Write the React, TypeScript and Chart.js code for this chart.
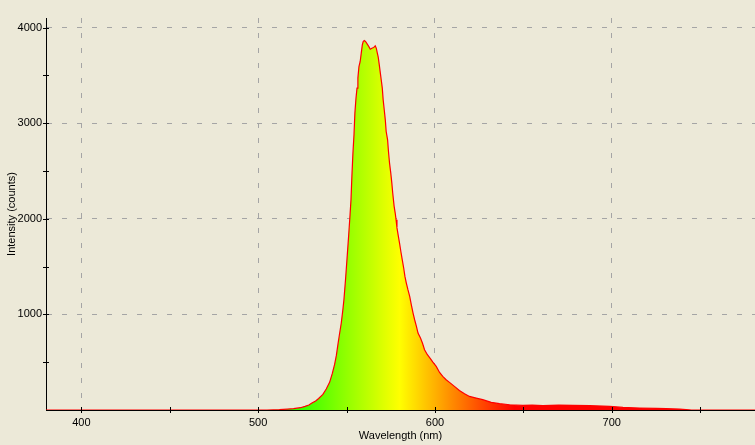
import React, { useEffect, useRef } from 'react';
import { Chart, registerables } from 'chart.js';

Chart.register(...registerables);

// Wavelength (nm)
const wavelengths: number[] = [
  380, 450, 505, 512, 516.6, 520, 523.9, 526.5, 528.7, 530.4, 532.5, 534.2, 536.6, 538.5,
  540.4, 541.9, 543.2, 544.2, 545.1, 546.1, 547, 547.9, 548.5, 549.4, 550.4, 551.2, 551.9,
  552.5, 553, 553.6, 554.2, 554.7, 555.3, 555.9, 556.4, 557, 557.7, 558.3, 558.9, 559.4,
  560, 560.7, 561.7, 562.6, 563.4, 564.3, 565.3, 566.2, 566.8, 567.4, 567.9, 568.5, 569.1,
  569.6, 570.2, 570.7, 571.3, 571.9, 572.4, 573.2, 573.7, 574.3, 575, 575.6, 576.1, 576.9,
  577.5, 578, 578.5, 579.3, 580, 580.7, 581.5, 582.3, 583, 583.8, 584.7, 585.7, 586.6,
  587.6, 588.5, 589.5, 590.4, 591.8, 592.9, 594.1, 595.7, 597.3, 598.8, 600.7, 602.6,
  604.4, 606.3, 608.2, 611, 613.8, 616.7, 619.5, 623.3, 627, 631.8, 636.5, 642.2, 649.7,
  655, 661, 670, 678, 687.5, 698.8, 706.3, 715.7, 725.2, 730.8, 738.4, 742, 745, 781,
];

// Intensity (counts)
const intensities: number[] = [
  0, 0, 0, 3, 10, 14, 24, 38, 52, 73, 95, 121, 163, 219,
  289, 380, 474, 568, 683, 805, 910, 1049, 1153, 1362, 1620, 1830, 2024,
  2199, 2442, 2687, 2878, 3105, 3255, 3367, 3471, 3592, 3645, 3732, 3819, 3854,
  3864, 3854, 3826, 3801, 3774, 3784, 3791, 3809, 3784, 3732, 3690, 3610, 3523,
  3453, 3367, 3244, 3140, 3035, 2913, 2826, 2704, 2582, 2478, 2373, 2269, 2130,
  2060, 1990, 1905, 1815, 1740, 1658, 1571, 1485, 1397, 1328, 1258, 1188, 1101,
  1014, 944, 874, 805, 753, 700, 630, 578, 540, 500, 456, 393,
  351, 317, 289, 247, 205, 170, 142, 125, 108, 80, 66, 55, 48,
  50, 45, 50, 48, 45, 38, 27, 21, 17, 14, 10, 4, 0, 0,
];

const xTickValues: number[] = [400, 450, 500, 550, 600, 650, 700, 750];
const xMajorTicks: number[] = [400, 500, 600, 700];
const yTickValues: number[] = [0, 500, 1000, 1500, 2000, 2500, 3000, 3500, 4000];
const yMajorTicks: number[] = [1000, 2000, 3000, 4000];

const X_MIN = 380;
const X_MAX = 781;
const Y_MIN = 0;
const Y_MAX = 4100;

const FONT = '"Liberation Sans", Arial, sans-serif';
const BG = '#ECE9D8';
const GRID = '#a5a5a5';

// Spectral colour for a wavelength (nm)
function waveColor(l: number): string {
  let r = 0, g = 0, b = 0;
  if (l < 440) { r = (440 - l) / 60; b = 1; }
  else if (l < 490) { g = (l - 440) / 50; b = 1; }
  else if (l < 510) { g = 1; b = (510 - l) / 20; }
  else if (l < 580) { r = (l - 510) / 70; g = 1; }
  else if (l < 645) { r = 1; g = (645 - l) / 65; }
  else { r = 1; }
  const c = (v: number) => Math.round(Math.max(0, Math.min(1, v)) * 255);
  return `rgb(${c(r)},${c(g)},${c(b)})`;
}

const axisDecor = {
  id: 'axisDecor',
  afterDraw(chart: any) {
    const { ctx, chartArea, scales } = chart;
    const xs = scales.x;
    const ys = scales.y;
    ctx.save();
    ctx.strokeStyle = '#000';
    ctx.lineWidth = 1;
    ctx.beginPath();
    xs.ticks.forEach((t: any) => {
      const px = Math.round(xs.getPixelForValue(t.value)) + 0.5;
      ctx.moveTo(px, chartArea.bottom - 3);
      ctx.lineTo(px, chartArea.bottom + 3);
    });
    ys.ticks.forEach((t: any) => {
      if (t.value === 0) return;
      const py = Math.round(ys.getPixelForValue(t.value)) + 0.5;
      ctx.moveTo(chartArea.left - 3, py);
      ctx.lineTo(chartArea.left + 3, py);
    });
    ctx.stroke();

    ctx.fillStyle = '#000';
    ctx.font = `11px ${FONT}`;
    ctx.textAlign = 'center';
    ctx.textBaseline = 'middle';
    ctx.fillText('Wavelength (nm)', (chartArea.left + chartArea.right) / 2, 436);
    ctx.translate(12, (chartArea.top + chartArea.bottom) / 2);
    ctx.rotate(-Math.PI / 2);
    ctx.fillText('Intensity (counts)', 0, 0);
    ctx.restore();
  },
};

export default function App() {
  const canvasRef = useRef<HTMLCanvasElement | null>(null);

  useEffect(() => {
    if (!canvasRef.current) return;
    const points = wavelengths.map((w, i) => ({ x: w, y: intensities[i] }));

    const chart = new Chart(canvasRef.current, {
      type: 'line',
      data: {
        datasets: [
          {
            data: points,
            borderColor: '#ff0000',
            borderWidth: 1.2,
            pointRadius: 0,
            tension: 0,
            fill: 'origin',
            backgroundColor: (c: any) => {
              const ch = c.chart;
              const area = ch.chartArea;
              if (!area) return 'rgba(0,0,0,0)';
              const xs = ch.scales.x;
              const x0 = xs.getPixelForValue(X_MIN);
              const x1 = xs.getPixelForValue(X_MAX);
              const grad = ch.ctx.createLinearGradient(x0, 0, x1, 0);
              for (let l = X_MIN; l <= X_MAX; l += 5) {
                grad.addColorStop((l - X_MIN) / (X_MAX - X_MIN), waveColor(l));
              }
              return grad;
            },
          },
        ],
      },
      options: {
        responsive: false,
        animation: false,
        events: [],
        layout: { padding: { top: 18, right: 0, left: 0, bottom: 0 } },
        plugins: {
          legend: { display: false },
          tooltip: { enabled: false },
        },
        scales: {
          x: {
            type: 'linear',
            min: X_MIN,
            max: X_MAX,
            afterBuildTicks: (s: any) => {
              s.ticks = xTickValues.map((v) => ({ value: v }));
            },
            afterFit: (s: any) => {
              s.height = 35;
            },
            ticks: {
              autoSkip: false,
              maxRotation: 0,
              padding: 6,
              color: '#000',
              font: { family: FONT, size: 11 },
              callback: (v: any) => (xMajorTicks.includes(Number(v)) ? String(v) : ''),
            },
            grid: {
              drawTicks: false,
              lineWidth: 1,
              color: (c: any) =>
                c.tick && xMajorTicks.includes(c.tick.value) ? GRID : 'rgba(0,0,0,0)',
            },
            border: { display: true, color: '#000', width: 1, dash: [5, 10] },
          },
          y: {
            type: 'linear',
            min: Y_MIN,
            max: Y_MAX,
            afterBuildTicks: (s: any) => {
              s.ticks = yTickValues.map((v) => ({ value: v }));
            },
            afterFit: (s: any) => {
              s.width = 46;
            },
            ticks: {
              autoSkip: false,
              padding: 4,
              color: '#000',
              font: { family: FONT, size: 11 },
              callback: (v: any) => (yMajorTicks.includes(Number(v)) ? String(v) : ''),
            },
            grid: {
              drawTicks: false,
              lineWidth: 1,
              color: (c: any) =>
                c.tick && yMajorTicks.includes(c.tick.value) ? GRID : 'rgba(0,0,0,0)',
            },
            border: { display: true, color: '#000', width: 1, dash: [5, 10] },
          },
        },
      },
      plugins: [axisDecor],
    });

    return () => chart.destroy();
  }, []);

  return (
    <div
      style={{
        position: 'absolute',
        left: 0,
        top: 0,
        width: 755,
        height: 445,
        background: BG,
        overflow: 'hidden',
      }}
    >
      <canvas ref={canvasRef} width={755} height={445} style={{ display: 'block' }} />
    </div>
  );
}
